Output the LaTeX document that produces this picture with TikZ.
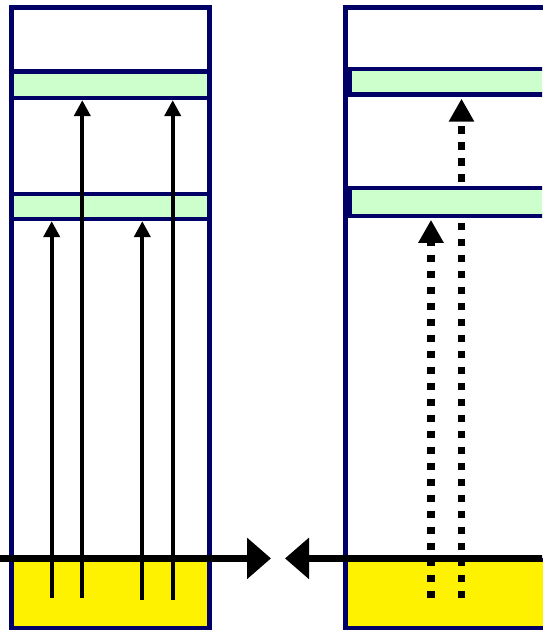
\documentclass[tikz,border=0pt]{standalone}
\usetikzlibrary{arrows.meta,positioning}
\definecolor{navy}{RGB}{0,0,102}
\definecolor{bandgreen}{RGB}{204,255,204}
\pgfdeclarelayer{bg}
\pgfdeclarelayer{mid}
\pgfsetlayers{bg,mid,main}
\tikzset{
  col/.style={draw=navy, line width=4.5pt, fill=white, inner sep=0pt},
  band/.style={draw=navy, line width=4.3pt, fill=bandgreen, inner sep=0pt},
  cache/.style={draw=navy, line width=4.5pt, fill=yellow, inner sep=0pt},
  hit/.style={line width=4pt, -{Triangle[length=16pt,width=16pt]}},
  miss/.style={line width=7.5pt, dash pattern=on 7.5pt off 8.5pt, -{Triangle[length=23pt,width=24pt]}, shorten >=2pt},
  bus/.style={line width=7.6pt, -{Triangle[length=24pt,width=40pt]}}
}
\begin{document}
\begin{tikzpicture}[x=1pt, y=-1pt]
\useasboundingbox (0,0) rectangle (542,631);
\clip (0,0) rectangle (542,631);

% left column
\begin{pgfonlayer}{bg}
\node[col, minimum width=198pt, minimum height=620.5pt] (LC) at (110.5,317.75) {};
\node[cache, minimum width=198pt, minimum height=69pt] (LY) at (110.5,593.5) {};
\end{pgfonlayer}
\node[band, minimum width=198pt, minimum height=26.5pt] (L1) at (110.5,84.75) {};
\node[band, minimum width=198pt, minimum height=25pt] (L2) at (110.5,206.5) {};

% right column
\begin{pgfonlayer}{bg}
\node[col, minimum width=254.5pt, minimum height=620.5pt] (RC) at (472.75,317.75) {};
\node[cache, minimum width=254.5pt, minimum height=68pt] (RY) at (472.75,594) {};
\end{pgfonlayer}
\node[band, minimum width=250pt, minimum height=25.7pt] (R1) at (475,81.65) {};
\node[band, minimum width=250pt, minimum height=27.4pt] (R2) at (475,202) {};

% feet of the arrows
\coordinate (a1) at (51.7,598);
\coordinate (a2) at (82.3,598);
\coordinate (a3) at (142.3,600);
\coordinate (a4) at (172.7,600);
\coordinate (b1) at (431,598);
\coordinate (b2) at (461.5,598);

\draw[hit] (a1) -- (a1 |- L2.south);
\draw[hit] (a2) -- (a2 |- L1.south);
\draw[hit] (a3) -- (a3 |- L2.south);
\draw[hit] (a4) -- (a4 |- L1.south);

\begin{pgfonlayer}{mid}
\draw[miss] (b1) -- (b1 |- R2.south);
\draw[miss] (b2) -- (b2 |- R1.south);
\end{pgfonlayer}

% bus
\coordinate (lin) at (-5,558.4);
\coordinate (lout) at (271,558.4);
\coordinate (rin) at (547,558.4);
\coordinate (rout) at (285,558.4);
\draw[bus] (lin) -- (lout);
\draw[bus] (rin) -- (rout);
\end{tikzpicture}
\end{document}
